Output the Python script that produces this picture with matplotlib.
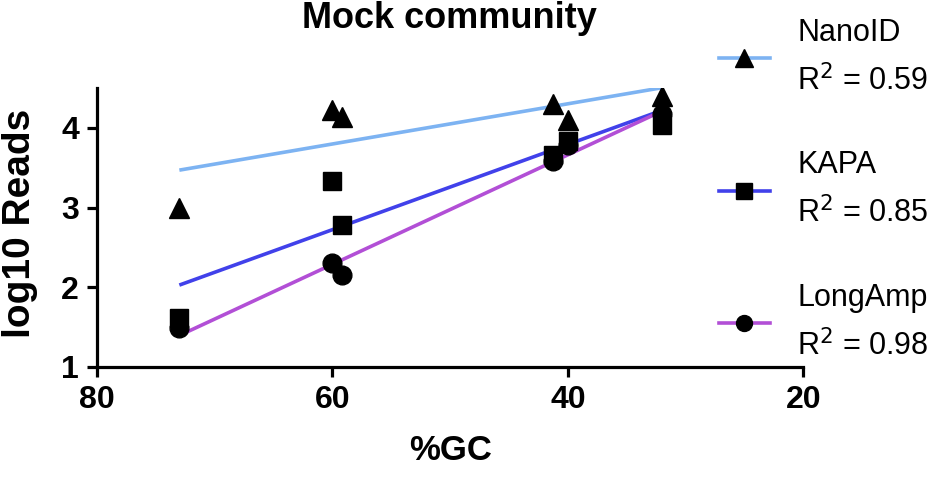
import numpy as np
import matplotlib
matplotlib.use('Agg')
import matplotlib.pyplot as plt

plt.rcParams['font.family'] = ['Liberation Sans', 'DejaVu Sans']

#Data
gc = [73, 60, 59.2, 41.3, 40, 32]
nanoid = [3.0, 4.22, 4.14, 4.30, 4.10, 4.40]
kapa = [1.61, 3.33, 2.78, 3.66, 3.83, 4.04]
longamp = [1.49, 2.30, 2.15, 3.58, 3.78, 4.17]

names = ['NanoID', 'KAPA', 'LongAmp']
r2 = ['0.59', '0.85', '0.98']
markers = ['^', 's', 'o']
msizes = [15, 13.5, 13.5]
colors = ['#7db3f2', '#4141ea', '#b24fd6']

fig = plt.figure(figsize = (9.45, 4.82), dpi = 100)
ax = fig.add_axes([0.1026, 0.2386, 0.7474, 0.5788])

#Regression line + points for each kit
handles = []
for vals, name, m, ms, c in zip([nanoid, kapa, longamp], names, markers, msizes, colors):
    slope, icpt = np.polyfit(gc, vals, 1)
    xs = np.array([min(gc), max(gc)])
    ax.plot(xs, slope * xs + icpt, color = c, lw = 2.6, zorder = 2, solid_capstyle = 'butt')
    ax.plot(gc, vals, ls = 'none', marker = m, ms = ms, color = 'k', zorder = 3)
    h, = plt.plot([], [], color = c, lw = 2.6, marker = m, ms = ms * 0.85,
                  markerfacecolor = 'k', markeredgecolor = 'k')
    handles.append(h)

labels = [f'{n}\nR$^2$ = {r}' for n, r in zip(names, r2)]

ax.set_xlim(80, 20)
ax.set_ylim(1, 4.5)
ax.set_xticks([80, 60, 40, 20])
ax.set_yticks([1, 2, 3, 4])

for s in ['top', 'right']:
    ax.spines[s].set_visible(False)
for s in ['left', 'bottom']:
    ax.spines[s].set_linewidth(2.3)

ax.tick_params(width = 2.3, length = 7, labelsize = 23, pad = 6)
for t in ax.get_xticklabels() + ax.get_yticklabels():
    t.set_fontweight('bold')

ax.set_xlabel('%GC', fontsize = 25, fontweight = 'bold', labelpad = 14)
ax.set_ylabel('log10 Reads', fontsize = 28, fontweight = 'bold')
ax.yaxis.set_label_coords(-0.084, 0.516)
fig.text(0.476, 0.998, 'Mock community', fontsize = 26, fontweight = 'bold',
         ha = 'center', va = 'top')

leg = fig.legend(handles, labels, loc = 'upper left', bbox_to_anchor = (0.732, 1.02),
                 frameon = False, fontsize = 22, handlelength = 1.65, handletextpad = 0.9,
                 labelspacing = 1.75)
for t in leg.get_texts():
    t.set_linespacing(1.65)

plt.savefig('out.png', dpi = 100)
